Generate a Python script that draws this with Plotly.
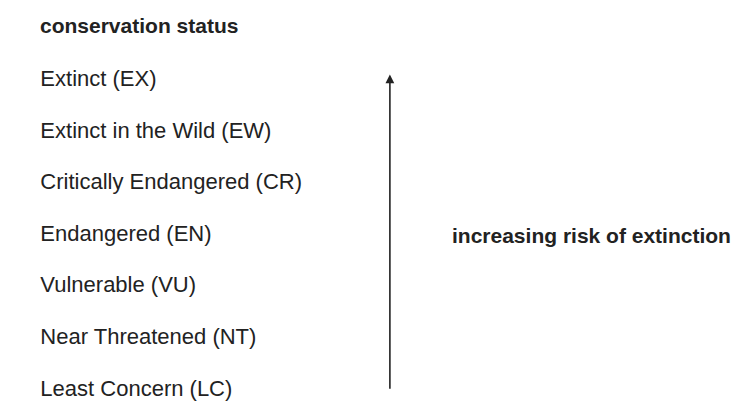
import plotly.graph_objects as go

statuses = ["Extinct (EX)", "Extinct in the Wild (EW)", "Critically Endangered (CR)",
            "Endangered (EN)", "Vulnerable (VU)", "Near Threatened (NT)", "Least Concern (LC)"]
rank = [7, 6, 5, 4, 3, 2, 1]
header = "conservation status"
arrow_label = "increasing risk of extinction"

FONT = "Liberation Sans, Arial, sans-serif"
fig = go.Figure()
fig.add_trace(go.Scatter(
    x=[0] * len(statuses), y=rank, mode="text", text=statuses,
    textposition="middle right",
    textfont=dict(family=FONT, size=22, color="#222222"),
    hoverinfo="skip", showlegend=False))
fig.add_annotation(x=-0.003, y=8.06, text="<b>" + header + "</b>", showarrow=False,
                   xanchor="left", yanchor="middle",
                   font=dict(family=FONT, size=21, color="#222222"))
fig.add_annotation(x=0.4946, y=7.12, ax=0.4946, ay=1.0, xref="x", yref="y", axref="x", ayref="y",
                   text="", showarrow=True, arrowhead=2, arrowsize=1.1, arrowwidth=1.6,
                   arrowcolor="#222222")
fig.add_annotation(x=0.98, y=4, text="<b>" + arrow_label + "</b>", showarrow=False,
                   xanchor="right", yanchor="middle",
                   font=dict(family=FONT, size=21, color="#222222"))

fig.update_xaxes(range=[-0.0458, 1.024], visible=False)
fig.update_yaxes(range=[0.538, 8.408], visible=False)
fig.update_layout(width=756, height=406, margin=dict(l=0, r=0, t=0, b=0),
                  plot_bgcolor="white", paper_bgcolor="white")
fig.write_html("out.html")
